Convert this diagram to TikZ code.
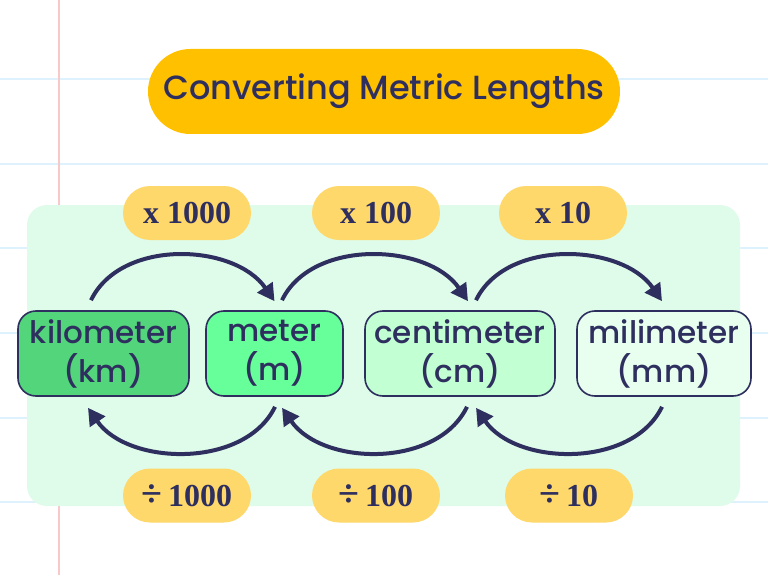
\documentclass[tikz,border=0pt]{standalone}
\usepackage{fontspec}
\usetikzlibrary{arrows.meta}

\newfontfamily\popfont{Poppins}[UprightFont=* Medium]
\newfontfamily\numfont{Liberation Serif}

\definecolor{navy}{HTML}{2E2F5F}
\definecolor{titlegold}{HTML}{FFC000}
\definecolor{pillgold}{HTML}{FED86A}
\definecolor{panelgreen}{HTML}{DFFCEA}
\definecolor{ruleblue}{HTML}{DDF2FC}
\definecolor{marginpink}{HTML}{F8C8CB}
\definecolor{kmgreen}{HTML}{53D67B}
\definecolor{mgreen}{HTML}{66FF99}
\definecolor{cmgreen}{HTML}{C2FFD3}
\definecolor{mmgreen}{HTML}{E8FFF0}

\newcommand{\divsign}{{\fontsize{38}{36}\selectfont\char"00F7}\,}

\tikzset{
  titlepill/.style={fill=titlegold, rounded corners=42.5pt, minimum width=472pt,
    minimum height=85pt, inner sep=0pt, text=navy, font=\popfont\fontsize{33.5}{40}\selectfont},
  factorpill/.style={fill=pillgold, rounded corners=27pt, minimum width=128pt,
    minimum height=54pt, inner sep=0pt, text=navy, font=\numfont\bfseries\fontsize{32}{36}\selectfont},
  unitbox/.style={draw=navy, line width=1.6pt, rounded corners=18pt, minimum height=85pt,
    inner sep=0pt, align=center, text=navy, font=\popfont\fontsize{31}{39}\selectfont},
  convarrow/.style={draw=navy, line width=4pt, -{Triangle[length=17pt,width=18pt]}},
}

\begin{document}
\begin{tikzpicture}[x=1pt, y=-1pt]

  %% ════ notebook paper ════
  \fill[white] (0,0) rectangle (768,575);
  \foreach \ry in {79,164,248,333,418,502}
    \draw[ruleblue, line width=2pt] (0,\ry) -- (768,\ry);
  \draw[marginpink, line width=2pt] (59,0) -- (59,575);

  %% ════ panel ════
  \fill[panelgreen, rounded corners=20pt] (27,205) rectangle (740,506);

  %% ════ title ════
  \node[titlepill] (title) at (384,91.5) {Converting Metric Lengths};

  %% ════ units ════
  \node[unitbox, fill=kmgreen, minimum width=171pt] (km) at (103.5,353.5) {kilometer\\(km)};
  \node[unitbox, fill=mgreen,  minimum width=137pt] (m)  at (274.5,353.5) {meter\\(m)};
  \node[unitbox, fill=cmgreen, minimum width=190pt] (cm) at (460,353.5)   {centimeter\\(cm)};
  \node[unitbox, fill=mmgreen, minimum width=174pt] (mm) at (664,353.5)   {milimeter\\(mm)};

  %% ════ factors ════
  \node[factorpill] (mul1000) at (187,213)   {x 1000};
  \node[factorpill] (mul100)  at (376,213)   {x 100};
  \node[factorpill] (mul10)   at (563,213)   {x 10};
  \node[factorpill] (div1000) at (187,495.5) {\divsign 1000};
  \node[factorpill] (div100)  at (376,495.5) {\divsign 100};
  \node[factorpill] (div10)   at (569,495.5) {\divsign 10};

  %% ════ multiply arrows (top) ════
  \draw[convarrow] ([xshift=-12.5pt,yshift=10pt]km.north)
    .. controls +(30,-62) and +(-40,-58) .. ([yshift=9pt]m.north);
  \draw[convarrow] ([xshift=7.5pt,yshift=10pt]m.north)
    .. controls +(30,-62) and +(-40,-58) .. ([xshift=8pt,yshift=9pt]cm.north);
  \draw[convarrow] ([xshift=16pt,yshift=10pt]cm.north)
    .. controls +(30,-62) and +(-40,-58) .. ([xshift=-2pt,yshift=9pt]mm.north);

  %% ════ divide arrows (bottom) ════
  \draw[convarrow] ([xshift=0.5pt,yshift=-10pt]m.south)
    .. controls +(-30,62) and +(40,58) .. ([xshift=-15.5pt,yshift=-11pt]km.south);
  \draw[convarrow] ([xshift=7pt,yshift=-10pt]cm.south)
    .. controls +(-30,62) and +(40,58) .. ([xshift=7.5pt,yshift=-11pt]m.south);
  \draw[convarrow] ([xshift=-2pt,yshift=-10pt]mm.south)
    .. controls +(-30,62) and +(40,58) .. ([xshift=16pt,yshift=-11pt]cm.south);

  \pgfresetboundingbox
  \path[use as bounding box] (0,0) rectangle (768,575);
\end{tikzpicture}
\end{document}
